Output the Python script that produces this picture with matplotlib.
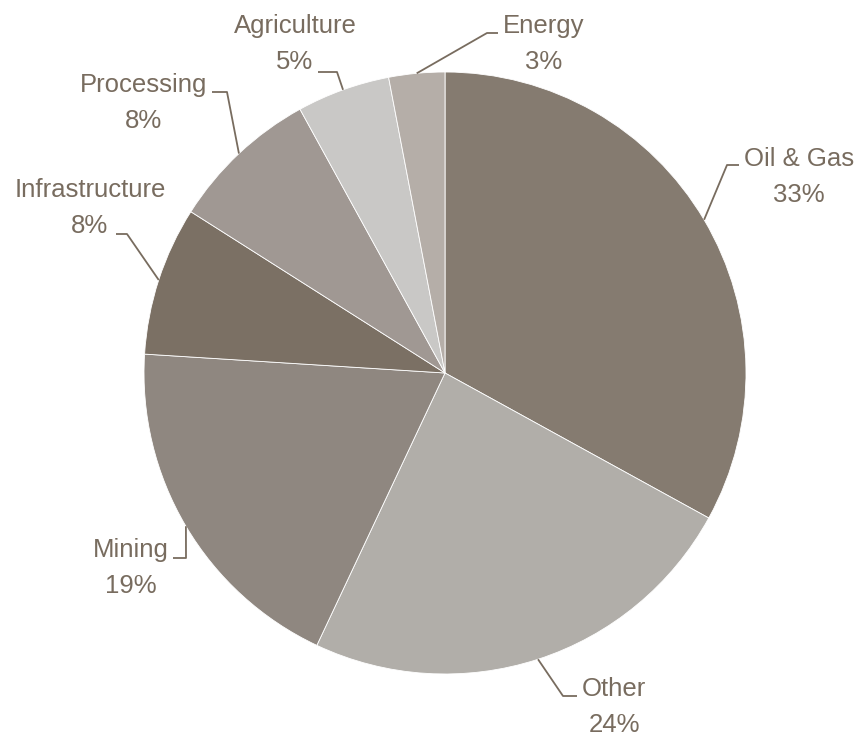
import matplotlib.pyplot as plt
import numpy as np

labels = ['Oil & Gas', 'Other', 'Mining', 'Infrastructure', 'Processing', 'Agriculture', 'Energy']
shares = [33, 24, 19, 8, 8, 5, 3]
colors = ['#857b70', '#b1aea9', '#8f8780', '#7b7064', '#a09893', '#c9c8c6', '#b5aea8']

# label layout in pixel coords (top-left origin): text x center, name baseline, elbow, line end
text_pos = [(799, 166), (614, 696), (131, 557), (90, 197), (144, 92), (295, 33), (544, 33)]
elbows = [(727, 165), (563, 696), (186, 558), (127, 234), (227, 92), (337, 72), (487, 33)]
ends = [(739, 165), (577, 696), (173, 558), (116, 234), (212, 92), (318, 72), (498, 33)]

W, H = 858, 737
cx, cy, r = 445, 373, 301
text_color = '#786c5f'

plt.rcParams['font.family'] = ['Liberation Sans', 'DejaVu Sans']

fig = plt.figure(figsize=(W / 100, H / 100), dpi=100)
ax = fig.add_axes([0, 0, 1, 1])

wedges, _ = ax.pie(shares, colors=colors, startangle=90, counterclock=False,
                   center=(cx, H - cy), radius=r,
                   wedgeprops=dict(edgecolor='white', linewidth=0.6))

for w, lab, val, tp, el, en in zip(wedges, labels, shares, text_pos, elbows, ends):
    mid = np.deg2rad((w.theta1 + w.theta2) / 2)
    sx = cx + r * np.cos(mid)
    sy = H - cy + r * np.sin(mid)
    ax.plot([sx, el[0], en[0]], [sy, H - el[1], H - en[1]], color=text_color, lw=1.3,
            solid_capstyle='butt')
    ax.text(tp[0], H - tp[1], lab, ha='center', va='baseline', fontsize=18.5, color=text_color)
    ax.text(tp[0], H - tp[1] - 36, f'{val}%', ha='center', va='baseline', fontsize=18.5,
            color=text_color)

ax.set_xlim(0, W)
ax.set_ylim(0, H)
ax.set_aspect('auto')
ax.axis('off')

fig.savefig('out.png', dpi=100)
